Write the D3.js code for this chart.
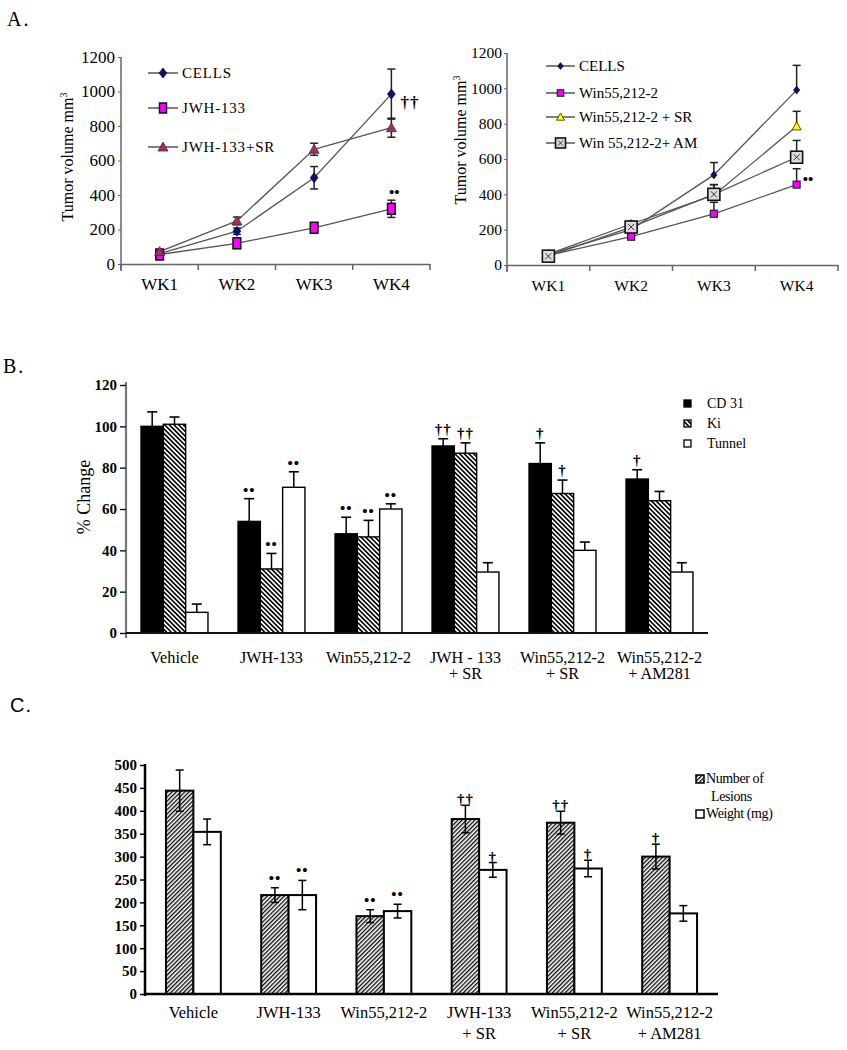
<!DOCTYPE html>
<html><head><meta charset="utf-8">
<script src="https://cdn.jsdelivr.net/npm/d3@7"></script>
<style>
body{margin:0;background:#fff}
svg{display:block}
text{font-family:"Liberation Serif","Times New Roman",serif;fill:#000}
</style>
</head><body>
<svg id="chart" width="847" height="1050"></svg>
<script>
// ---------------- DATA ----------------
const weeks = ["WK1","WK2","WK3","WK4"];
const yTicksA = [0,200,400,600,800,1000,1200];

// Panel A (left)
const leftNames = ["CELLS","JWH-133","JWH-133+SR"];
const leftCells = [60,190,500,985];
const leftCellsErr = [10,18,65,145];
const leftJwh = [55,120,210,320];
const leftJwhErr = [8,20,18,50];
const leftJwhSR = [72,250,665,790];
const leftJwhSRErr = [10,22,35,55];
const leftSig = ["††","••"];

// Panel A (right)
const rightNames = ["CELLS","Win55,212-2","Win55,212-2 + SR","Win 55,212-2+ AM"];
const rightCells = [60,200,510,990];
const rightCellsErr = [8,15,70,140];
const rightWin = [55,160,290,455];
const rightWinErr = [5,10,65,90];
const rightWinSR = [62,232,395,785];
const rightWinSRErr = [5,15,60,85];
const rightWinAM = [50,215,400,610];
const rightWinAMErr = [5,15,55,95];
const rightSig = ["••"];

// Panel B
const groupsB = [["Vehicle"],["JWH-133"],["Win55,212-2"],["JWH - 133","+ SR"],["Win55,212-2","+ SR"],["Win55,212-2","+ AM281"]];
const seriesB = ["CD 31","Ki","Tunnel"];
const yTicksB = [0,20,40,60,80,100,120];
const cd31 = [100,54,48,90.5,82,74.5];
const cd31Err = [7,11,8,3.5,10,4.5];
const ki = [101,31,46.5,87,67.5,64];
const kiErr = [3.5,7.5,8,5,6.5,4.5];
const tunnel = [10,70.5,60,29.5,40,29.5];
const tunnelErr = [4,7.5,2.5,4.5,4,4.5];
const cd31Sig = ["","••","••","††","†","†"];
const kiSig = ["","••","••","††","†",""];
const tunnelSig = ["","••","••","","",""];

// Panel C
const groupsC = [["Vehicle"],["JWH-133"],["Win55,212-2"],["JWH-133","+ SR"],["Win55,212-2","+ SR"],["Win55,212-2","+ AM281"]];
const seriesC = ["Number of Lesions","Weight (mg)"];
const yTicksC = [0,50,100,150,200,250,300,350,400,450,500];
const lesions = [444,216,170,382,374,300];
const lesionsErr = [45,16,14,30,25,27];
const weight = [354,216,181,271,274,176];
const weightErr = [28,32,15,16,18,17];
const lesionsSig = ["","••","••","††","††","†"];
const weightSig = ["","••","••","†","†",""];

// ---------------- DRAW ----------------
const svg = d3.select("#chart");
const defs = svg.append("defs");
defs.append("pattern").attr("id","hatchB").attr("patternUnits","userSpaceOnUse")
  .attr("width",3.3).attr("height",3.3).attr("patternTransform","rotate(-45)")
  .call(p=>{p.append("rect").attr("width",3.3).attr("height",3.3).attr("fill","#fff");
            p.append("line").attr("x1",0.8).attr("x2",0.8).attr("y1",0).attr("y2",3.3).attr("stroke","#000").attr("stroke-width",1.6);});
defs.append("pattern").attr("id","hatchC").attr("patternUnits","userSpaceOnUse")
  .attr("width",3.0).attr("height",3.0).attr("patternTransform","rotate(45)")
  .call(p=>{p.append("rect").attr("width",3).attr("height",3).attr("fill","#fff");
            p.append("line").attr("x1",0.7).attr("x2",0.7).attr("y1",0).attr("y2",3).attr("stroke","#000").attr("stroke-width",1.3);});

// panel letters
svg.append("text").attr("x",7).attr("y",26).attr("font-size",20).attr("letter-spacing",2).text("A.");
svg.append("text").attr("x",3).attr("y",373).attr("font-size",20).attr("letter-spacing",2).text("B.");
svg.append("text").attr("x",10).attr("y",712).attr("font-size",20).style("font-family","Liberation Sans, Arial, sans-serif").attr("letter-spacing",1).text("C.");

// marker helpers
function marker(g, type, x, y, s) {
  if (type==="diamond") {
    g.append("path").attr("d",`M${x},${y-s}L${x+s*0.8},${y}L${x},${y+s}L${x-s*0.8},${y}Z`)
      .attr("fill","#10106a").attr("stroke","#000040").attr("stroke-width",0.6);
  } else if (type==="sqTall") {
    g.append("rect").attr("x",x-s*0.7).attr("y",y-s).attr("width",s*1.4).attr("height",s*2)
      .attr("fill","#ff00ff").attr("stroke","#111").attr("stroke-width",1.5);
  } else if (type==="sq") {
    g.append("rect").attr("x",x-s).attr("y",y-s).attr("width",s*2).attr("height",s*2)
      .attr("fill","#ff00ff").attr("stroke","#222").attr("stroke-width",1.2);
  } else if (type==="triMauve") {
    g.append("path").attr("d",`M${x},${y-s}L${x+s},${y+s*0.8}L${x-s},${y+s*0.8}Z`)
      .attr("fill","#993366").attr("stroke","#552233").attr("stroke-width",0.8);
  } else if (type==="triYellow") {
    g.append("path").attr("d",`M${x},${y-s}L${x+s},${y+s*0.8}L${x-s},${y+s*0.8}Z`)
      .attr("fill","#ffff00").attr("stroke","#555500").attr("stroke-width",1);
  } else if (type==="boxX") {
    g.append("rect").attr("x",x-s).attr("y",y-s).attr("width",s*2).attr("height",s*2)
      .attr("fill","#ddd").attr("stroke","#111").attr("stroke-width",1.6);
    g.append("path").attr("d",`M${x-s*0.5},${y-s*0.5}L${x+s*0.5},${y+s*0.5}M${x+s*0.5},${y-s*0.5}L${x-s*0.5},${y+s*0.5}`)
      .attr("stroke","#333").attr("stroke-width",1);
  }
}

function linePanel(cfg) {
  const g = svg.append("g");
  const x = d3.scaleBand().domain(weeks).range(cfg.xr);
  const cx = w => x(w) + x.bandwidth()/2;
  const y = d3.scaleLinear().domain([0,1200]).range(cfg.yr);
  const ya = g.append("g").attr("transform",`translate(${cfg.xr[0]},0)`)
    .call(d3.axisLeft(y).tickValues(yTicksA).tickFormat(d3.format("d")).tickSize(3).tickSizeOuter(0).tickPadding(cfg.tp));
  ya.select(".domain").attr("stroke","#666").attr("stroke-width",1.5)
    .attr("d",`M0,${cfg.yr[0]+7}V${cfg.yr[1]}`);
  ya.selectAll(".tick line").attr("stroke","#666");
  ya.selectAll("text").attr("font-size",cfg.fs).style("font-family","Liberation Serif");
  const xa = g.append("g").attr("transform",`translate(0,${cfg.yr[0]})`)
    .call(d3.axisBottom(x).tickSize(0).tickSizeOuter(0).tickPadding(cfg.xp));
  xa.select(".domain").attr("stroke","#666").attr("stroke-width",1.5);
  xa.selectAll("text").attr("font-size",cfg.fs).style("font-family","Liberation Serif");
  const edges = weeks.map(w=>x(w)).concat([cfg.xr[1]]);
  xa.selectAll(".edge").data(edges).join("line").attr("class","edge")
    .attr("x1",d=>d).attr("x2",d=>d).attr("y1",0).attr("y2",6).attr("stroke","#666").attr("stroke-width",1.5);
  g.append("text").attr("transform",`translate(${cfg.ylx},${cfg.yly}) rotate(-90)`)
    .attr("text-anchor","middle").attr("font-size",16)
    .call(t=>{t.append("tspan").text("Tumor volume mm");
              t.append("tspan").attr("font-size",10).attr("dy",-6).text("3");});
  const line = d3.line().x((d,i)=>cx(weeks[i])).y(d=>y(d));
  cfg.series.forEach(s=>{
    g.append("path").datum(s.v).attr("d",line).attr("fill","none").attr("stroke","#555").attr("stroke-width",1.3);
  });
  cfg.series.forEach(s=>{
    s.v.forEach((v,i)=>{
      const X = cx(weeks[i]);
      const top = y(v + s.e[i]);
      const bot = cfg.both ? y(v - s.e[i]) : y(v);
      g.append("line").attr("x1",X).attr("x2",X).attr("y1",top).attr("y2",bot).attr("stroke","#222").attr("stroke-width",1.5);
      g.append("line").attr("x1",X-4).attr("x2",X+4).attr("y1",top).attr("y2",top).attr("stroke","#222").attr("stroke-width",1.5);
      if (cfg.both) g.append("line").attr("x1",X-4).attr("x2",X+4).attr("y1",bot).attr("y2",bot).attr("stroke","#222").attr("stroke-width",1.5);
    });
  });
  cfg.series.forEach(s=>{
    s.v.forEach((v,i)=>marker(g, s.m, cx(weeks[i]), y(v), s.sz));
  });
  cfg.names.forEach((n,i)=>{
    const ly = cfg.leg.y[i];
    g.append("line").attr("x1",cfg.leg.x0).attr("x2",cfg.leg.x1).attr("y1",ly).attr("y2",ly).attr("stroke","#555").attr("stroke-width",1.5);
    marker(g, cfg.series[i].m, (cfg.leg.x0+cfg.leg.x1)/2, ly, cfg.series[i].lsz);
    g.append("text").attr("x",cfg.leg.tx).attr("y",ly+5).attr("font-size",15).attr("letter-spacing",cfg.leg.ls).text(n);
  });
  return {x, cx, y, g};
}

const L = linePanel({
  xr:[121,430], yr:[264,57], tp:3, xp:14, fs:17, ylx:73, yly:157, both:true,
  names:leftNames,
  series:[
    {v:leftCells, e:leftCellsErr, m:"diamond", sz:5, lsz:5},
    {v:leftJwh, e:leftJwhErr, m:"sqTall", sz:5.5, lsz:5},
    {v:leftJwhSR, e:leftJwhSRErr, m:"triMauve", sz:5, lsz:5}
  ],
  leg:{x0:148,x1:178,tx:182,y:[73,108,147],ls:0.8}
});
L.g.append("text").attr("x",L.cx("WK4")+9).attr("y",L.y(leftCells[3])+14)
  .attr("font-size",17).attr("font-weight","bold").attr("letter-spacing",1).text(leftSig[0]);
L.g.append("text").attr("x",L.cx("WK4")+3).attr("y",L.y(leftJwh[3])-12)
  .attr("text-anchor","middle").attr("font-size",15).attr("font-weight","bold").text(leftSig[1]);

const R = linePanel({
  xr:[507,838], yr:[265,53], tp:2, xp:15, fs:15.5, ylx:466, yly:140, both:false,
  names:rightNames,
  series:[
    {v:rightCells, e:rightCellsErr, m:"diamond", sz:4, lsz:3.5},
    {v:rightWin, e:rightWinErr, m:"sq", sz:3.5, lsz:3.2},
    {v:rightWinSR, e:rightWinSRErr, m:"triYellow", sz:4.5, lsz:4},
    {v:rightWinAM, e:rightWinAMErr, m:"boxX", sz:6, lsz:5}
  ],
  leg:{x0:546,x1:575,tx:579,y:[66,93,117,143],ls:0}
});
R.g.append("text").attr("x",R.cx("WK4")+6).attr("y",R.y(rightWin[3])-1)
  .attr("font-size",15).attr("font-weight","bold").text(rightSig[0]);

// Panel B
(function(){
  const g = svg.append("g");
  const x0 = d3.scaleBand().domain(d3.range(groupsB.length)).range([126,708]).paddingInner(0.31).paddingOuter(0.155);
  const x1 = d3.scaleBand().domain(seriesB).range([0,x0.bandwidth()]);
  const y = d3.scaleLinear().domain([0,120]).range([633,385]);
  const data = [
    {k:"CD 31", v:cd31, e:cd31Err, s:cd31Sig, fill:"#000"},
    {k:"Ki", v:ki, e:kiErr, s:kiSig, fill:"url(#hatchB)"},
    {k:"Tunnel", v:tunnel, e:tunnelErr, s:tunnelSig, fill:"#fff"}
  ];
  const ya = g.append("g").attr("transform","translate(126,0)")
    .call(d3.axisLeft(y).tickValues(yTicksB).tickSize(6).tickSizeOuter(0).tickPadding(3));
  ya.select(".domain").attr("stroke","#777").attr("stroke-width",2.2).attr("d","M0,638V382");
  ya.selectAll(".tick line").attr("stroke","#111").attr("stroke-width",1.4);
  ya.selectAll("text").attr("font-size",15).attr("font-weight","bold").style("font-family","Liberation Serif");
  g.append("text").attr("transform","translate(90,497) rotate(-90)").attr("text-anchor","middle")
    .attr("font-size",18).text("% Change");
  data.forEach(d=>{
    d.v.forEach((v,i)=>{
      const X = x0(i)+x1(d.k), W = x1.bandwidth(), C = X+W/2;
      g.append("rect").attr("x",X).attr("y",y(v)).attr("width",W).attr("height",y(0)-y(v))
        .attr("fill",d.fill).attr("stroke","#000").attr("stroke-width",1.4);
      const top = y(v+d.e[i]);
      g.append("line").attr("x1",C).attr("x2",C).attr("y1",top).attr("y2",y(v)).attr("stroke","#000").attr("stroke-width",1.5);
      g.append("line").attr("x1",C-5).attr("x2",C+5).attr("y1",top).attr("y2",top).attr("stroke","#000").attr("stroke-width",1.6);
      if (d.s[i]) g.append("text").attr("x",C).attr("y",top-(d.s[i].includes("•")?4:5))
        .attr("text-anchor","middle").attr("font-size",15).attr("font-weight","bold").attr("letter-spacing",1).text(d.s[i]);
    });
  });
  g.append("line").attr("x1",126).attr("x2",708).attr("y1",633).attr("y2",633).attr("stroke","#111").attr("stroke-width",2);
  groupsB.forEach((lines,i)=>{
    const t = g.append("text").attr("text-anchor","middle").attr("font-size",16.2);
    lines.forEach((ln,j)=>t.append("tspan").attr("x",x0(i)+x0.bandwidth()/2).attr("y",663+j*16).text(ln));
  });
  const lg = g.append("g");
  data.forEach((d,i)=>{
    const ly = 404 + i*20;
    lg.append("rect").attr("x",684).attr("y",ly-4).attr("width",7).attr("height",7)
      .attr("fill",d.fill).attr("stroke","#000").attr("stroke-width",1.3);
    lg.append("text").attr("x",707).attr("y",ly+4).attr("font-size",14).text(d.k);
  });
})();

// Panel C
(function(){
  const g = svg.append("g");
  const x0 = d3.scaleBand().domain(d3.range(groupsC.length)).range([145,718]).paddingInner(0.424).paddingOuter(0.22);
  const x1 = d3.scaleBand().domain(seriesC).range([0,x0.bandwidth()]);
  const y = d3.scaleLinear().domain([0,500]).range([994,765]);
  const data = [
    {k:seriesC[0], v:lesions, e:lesionsErr, s:lesionsSig, fill:"url(#hatchC)"},
    {k:seriesC[1], v:weight, e:weightErr, s:weightSig, fill:"#fff"}
  ];
  const ya = g.append("g").attr("transform","translate(145,0)")
    .call(d3.axisLeft(y).tickValues(yTicksC).tickSize(5).tickSizeOuter(0).tickPadding(3));
  ya.select(".domain").attr("stroke","#000").attr("stroke-width",2.5).attr("d","M0,996V764");
  ya.selectAll(".tick line").attr("stroke","#000").attr("stroke-width",1.5);
  ya.selectAll("text").attr("font-size",15).attr("font-weight","bold").style("font-family","Liberation Serif");
  data.forEach(d=>{
    d.v.forEach((v,i)=>{
      const X = x0(i)+x1(d.k), W = x1.bandwidth(), C = X+W/2;
      g.append("rect").attr("x",X).attr("y",y(v)).attr("width",W).attr("height",y(0)-y(v))
        .attr("fill",d.fill).attr("stroke","#000").attr("stroke-width",2);
      const top = y(v+d.e[i]), bot = y(v-d.e[i]);
      g.append("line").attr("x1",C).attr("x2",C).attr("y1",top).attr("y2",bot).attr("stroke","#000").attr("stroke-width",1.5);
      g.append("line").attr("x1",C-4).attr("x2",C+4).attr("y1",top).attr("y2",top).attr("stroke","#000").attr("stroke-width",1.5);
      g.append("line").attr("x1",C-4).attr("x2",C+4).attr("y1",bot).attr("y2",bot).attr("stroke","#000").attr("stroke-width",1.5);
      if (d.s[i]) g.append("text").attr("x",C).attr("y",top-(d.s[i].includes("•")?5:1))
        .attr("text-anchor","middle").attr("font-size",15).attr("font-weight","bold").attr("letter-spacing",1).text(d.s[i]);
    });
  });
  g.append("line").attr("x1",145).attr("x2",718).attr("y1",994).attr("y2",994).attr("stroke","#000").attr("stroke-width",2.5);
  groupsC.forEach((lines,i)=>{
    const t = g.append("text").attr("text-anchor","middle").attr("font-size",16.5);
    lines.forEach((ln,j)=>t.append("tspan").attr("x",x0(i)+x0.bandwidth()/2).attr("y",1018+j*21).text(ln));
  });
  const lg = g.append("g");
  lg.append("rect").attr("x",696).attr("y",775).attr("width",8).attr("height",8)
    .attr("fill",data[0].fill).attr("stroke","#000").attr("stroke-width",1.5);
  lg.append("text").attr("x",706).attr("y",783).attr("font-size",14).attr("letter-spacing",-0.4).text("Number of");
  lg.append("text").attr("x",711).attr("y",801).attr("font-size",14).attr("letter-spacing",-0.4).text("Lesions");
  lg.append("rect").attr("x",696).attr("y",810).attr("width",8).attr("height",8)
    .attr("fill",data[1].fill).attr("stroke","#000").attr("stroke-width",1.5);
  lg.append("text").attr("x",706).attr("y",818).attr("font-size",14).attr("letter-spacing",-0.4).text("Weight (mg)");
})();
</script>
</body></html>
